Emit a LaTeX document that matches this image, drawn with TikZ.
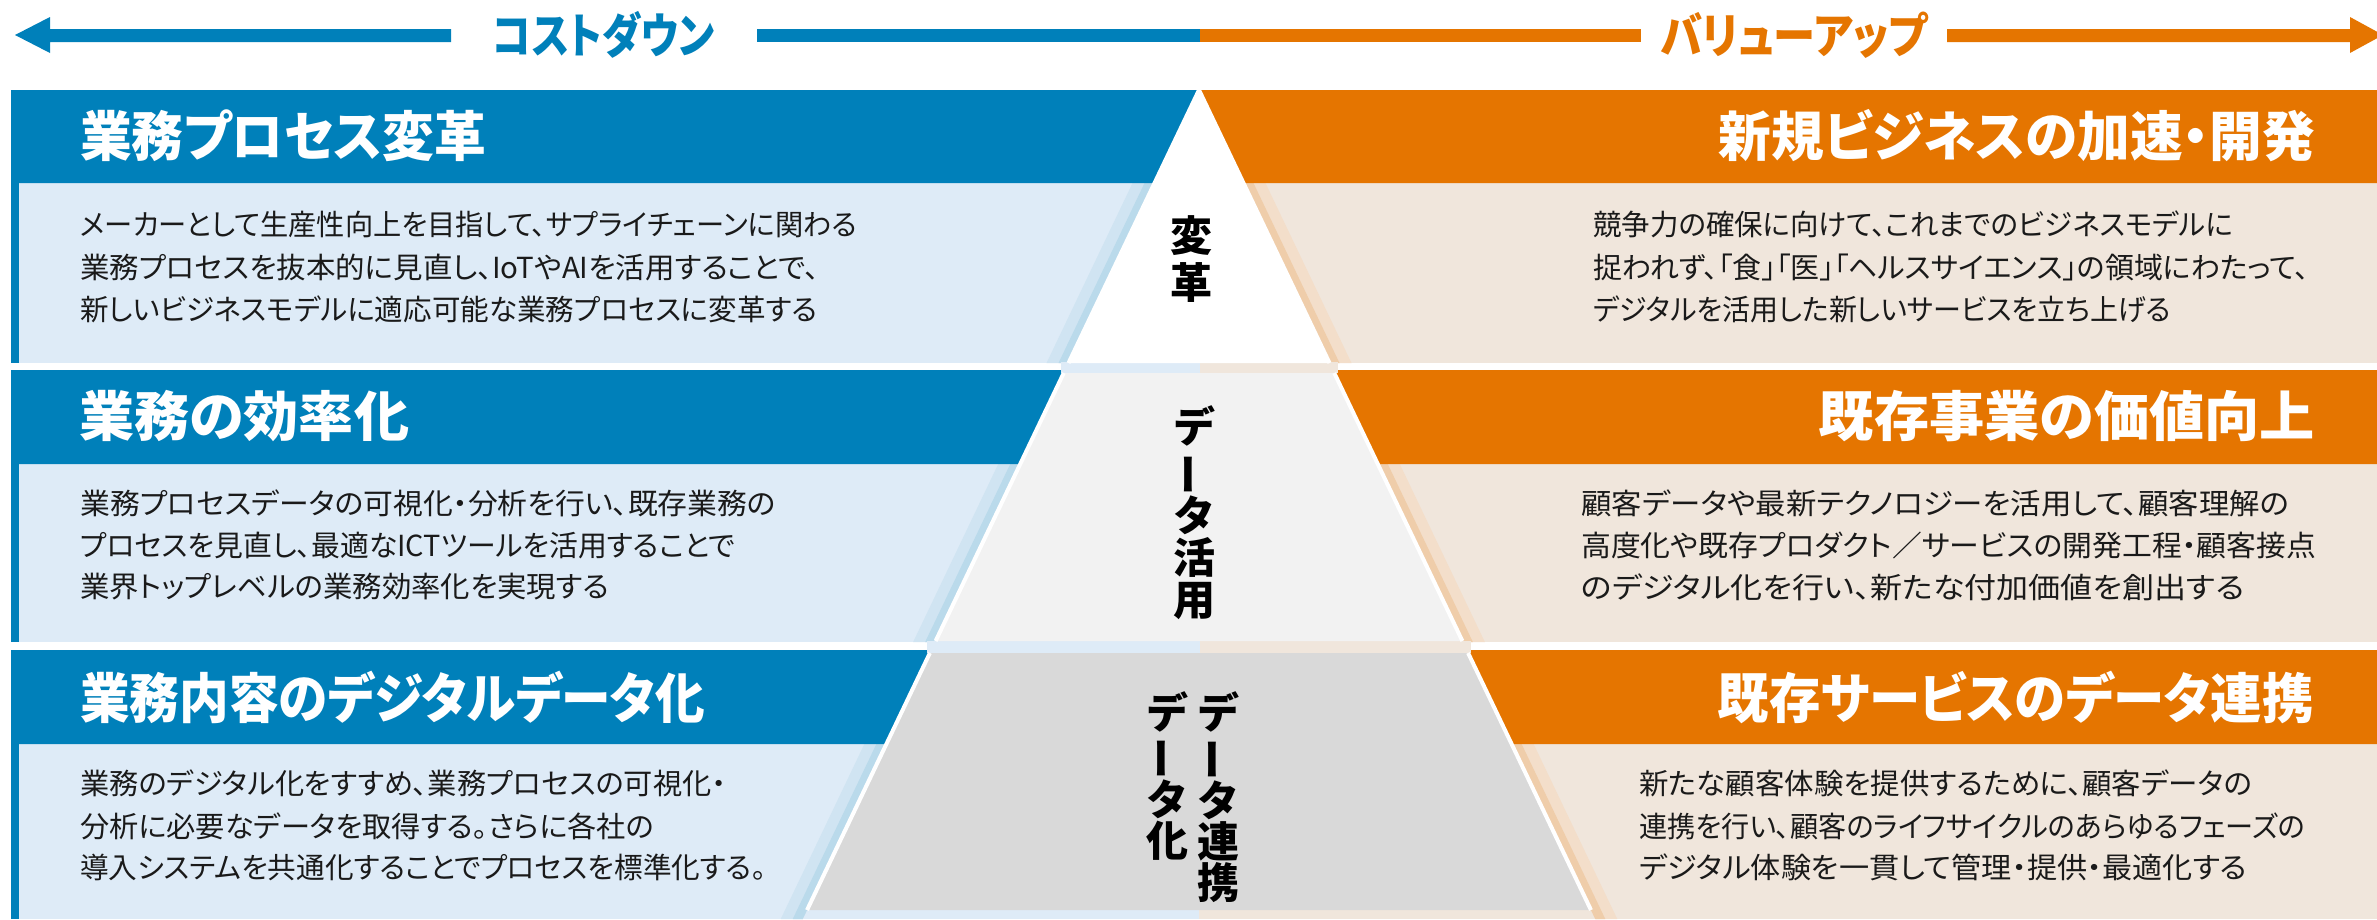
\documentclass[tikz,border=0pt]{standalone}
\usepackage{fontspec}
\usepackage{graphicx}
\newfontfamily\jp{Noto Sans CJK JP}[RawFeature=+palt]
\definecolor{cblue}{RGB}{0,128,186}
\definecolor{corange}{RGB}{229,117,0}
\definecolor{lblue}{RGB}{222,235,247}
\definecolor{beige}{RGB}{240,230,220}
\definecolor{shLo}{RGB}{208,228,242}
\definecolor{shLi}{RGB}{186,218,235}
\definecolor{shRo}{RGB}{243,222,202}
\definecolor{shRi}{RGB}{239,205,170}
\definecolor{pmid}{RGB}{242,242,242}
\definecolor{pbot}{RGB}{217,217,217}
\definecolor{txt}{RGB}{26,26,26}
\newlength\fitlen
\newcommand\fitw[2]{\settowidth\fitlen{#2}\pgfmathsetmacro\fitf{#1/\fitlen}\scalebox{\fitf}[1]{#2}}
\tikzset{
  ttl/.style={font=\jp\bfseries\fontsize{54}{54}\selectfont, text=white, inner sep=0},
  bodytxt/.style={font=\jp\fontsize{29}{29}\selectfont, text=txt, inner sep=0, anchor=west},
  arrtxt/.style={font=\jp\bfseries\fontsize{48}{48}\selectfont, inner sep=0},
  verttxt/.style={font=\jp\bfseries\fontsize{42}{42}\selectfont, align=center, inner sep=0, text=black},
  edge/.style={white, line width=4pt, line cap=butt}
}
\newcommand\vbar{\rotatebox[origin=c]{90}{ー}}
\begin{document}
\begin{tikzpicture}[x=1pt,y=-1pt,
  declare function={Lx(\q)=1199-0.478*(\q-90);Rx(\q)=1199+0.478*(\q-90);}]
\useasboundingbox[fill=white] (0,0) rectangle (2377,919);
% top arrows
\fill[cblue] (15,35) -- (50,17) -- (50,29) -- (451,29) -- (451,42) -- (50,42) -- (50,53) -- cycle;
\fill[cblue] (757,29) rectangle (1200,42);
\fill[corange] (1200,29) rectangle (1641,42);
\fill[corange] (1947,29) -- (2350,29) -- (2350,17) -- (2383,35) -- (2350,53) -- (2350,42) -- (1947,42) -- cycle;
\node[arrtxt, text=cblue] (cd) at (604,35) {\fitw{222}{コストダウン}};
\node[arrtxt, text=corange] (vu) at (1794,35) {\fitw{267}{バリューアップ}};
% bodies
\foreach \yt/\yb in {183/363, 464/642, 744/919}{
  \fill[cblue] (11,\yt) rectangle (19,\yb);
  \fill[lblue] (19,\yt) rectangle (1199,\yb);
  \fill[beige] (1199,\yt) rectangle (2377,\yb);
  \fill[shLo] ({Lx(\yt)-22},\yt) -- ({Lx(\yt)},\yt) -- ({Lx(\yb)},\yb) -- ({Lx(\yb)-22},\yb) -- cycle;
  \fill[shLi] ({Lx(\yt)-10},\yt) -- ({Lx(\yt)},\yt) -- ({Lx(\yb)},\yb) -- ({Lx(\yb)-10},\yb) -- cycle;
  \fill[shRo] ({Rx(\yt)+22},\yt) -- ({Rx(\yt)},\yt) -- ({Rx(\yb)},\yb) -- ({Rx(\yb)+22},\yb) -- cycle;
  \fill[shRi] ({Rx(\yt)+10},\yt) -- ({Rx(\yt)},\yt) -- ({Rx(\yb)},\yb) -- ({Rx(\yb)+10},\yb) -- cycle;
}
% headers
\foreach \yt/\yb in {90/183, 370/464, 650/744}{
  \fill[cblue] (11,\yt) -- ({Lx(\yt)},\yt) -- ({Lx(\yb)},\yb) -- (11,\yb) -- cycle;
  \fill[corange] ({Rx(\yt)},\yt) -- (2377,\yt) -- (2377,\yb) -- ({Rx(\yb)},\yb) -- cycle;
}
% gap strips in the pyramid
\fill[lblue] ({Lx(363)-8},362) rectangle (1200,373);
\fill[beige] (1200,362) rectangle ({Rx(363)+8},373);
\fill[lblue] ({Lx(641)-9},641) rectangle (1200,653);
\fill[beige] (1200,641) rectangle ({Rx(641)+9},653);
% pyramid
\fill[white] (1199,90) -- ({Lx(363)},363) -- ({Rx(363)},363) -- cycle;
\fill[pmid] ({Lx(373)},373) -- ({Rx(373)},373) -- ({Rx(641)},641) -- ({Lx(641)},641) -- cycle;
\fill[pbot] ({Lx(653)},653) -- ({Rx(653)},653) -- ({Rx(910)},910) -- ({Lx(910)},910) -- cycle;
\draw[edge] ({Lx(363)},363) -- (1199,90) -- ({Rx(363)},363);
\draw[edge] ({Lx(373)},373) -- ({Lx(641)},641);
\draw[edge] ({Rx(373)},373) -- ({Rx(641)},641);
\draw[edge] ({Lx(653)},653) -- ({Lx(910)},910);
\draw[edge] ({Rx(653)},653) -- ({Rx(910)},910);
% pyramid labels
\node[verttxt, font=\jp\bfseries\fontsize{42}{47}\selectfont] (p1) at (1191,259) {変\\革};
\node[verttxt] (p2) at (1194,513) {デ\\\vbar\\タ\\活\\用};
\node[verttxt, font=\jp\bfseries\fontsize{42}{41}\selectfont] (p3a) at (1218,797) {デ\\\vbar\\タ\\連\\携};
\node[verttxt, font=\jp\bfseries\fontsize{42}{41}\selectfont] (p3b) at (1167,776) {デ\\\vbar\\タ\\化};
% titles
\node[ttl, anchor=west] (t1l) at (80,136) {\fitw{406}{業務プロセス変革}};
\node[ttl, anchor=east] (t1r) at (2315,136) {\fitw{596}{新規ビジネスの加速・開発}};
\node[ttl, anchor=west] (t2l) at (79,416) {\fitw{330}{業務の効率化}};
\node[ttl, anchor=east] (t2r) at (2315,416) {\fitw{496}{既存事業の価値向上}};
\node[ttl, anchor=west] (t3l) at (80,697) {\fitw{625}{業務内容のデジタルデータ化}};
\node[ttl, anchor=east] (t3r) at (2314,697) {\fitw{596}{既存サービスのデータ連携}};
% body texts row 1
\node[bodytxt] (b1l1) at (80,224) {\fitw{777}{メーカーとして生産性向上を目指して、サプライチェーンに関わる}};
\node[bodytxt] (b1l2) at (80,267) {\fitw{739}{業務プロセスを抜本的に見直し、IoTやAIを活用することで、}};
\node[bodytxt] (b1l3) at (80,309) {\fitw{737}{新しいビジネスモデルに適応可能な業務プロセスに変革する}};
\node[bodytxt] (b1r1) at (1593,224) {\fitw{640}{競争力の確保に向けて、これまでのビジネスモデルに}};
\node[bodytxt] (b1r2) at (1593,267) {\fitw{716}{捉われず、「食」「医」「ヘルスサイエンス」の領域にわたって、}};
\node[bodytxt] (b1r3) at (1593,309) {\fitw{578}{デジタルを活用した新しいサービスを立ち上げる}};
% row 2
\node[bodytxt] (b2l1) at (80,503) {\fitw{696}{業務プロセスデータの可視化・分析を行い、既存業務の}};
\node[bodytxt] (b2l2) at (80,545) {\fitw{655}{プロセスを見直し、最適なICTツールを活用することで}};
\node[bodytxt] (b2l3) at (80,587) {\fitw{529}{業界トップレベルの業務効率化を実現する}};
\node[bodytxt] (b2r1) at (1581,503) {\fitw{708}{顧客データや最新テクノロジーを活用して、顧客理解の}};
\node[bodytxt] (b2r2) at (1581,545) {\fitw{735}{高度化や既存プロダクト／サービスの開発工程・顧客接点}};
\node[bodytxt] (b2r3) at (1581,587) {\fitw{663}{のデジタル化を行い、新たな付加価値を創出する}};
% row 3
\node[bodytxt] (b3l1) at (80,783) {\fitw{646}{業務のデジタル化をすすめ、業務プロセスの可視化・}};
\node[bodytxt] (b3l2) at (80,826) {\fitw{574}{分析に必要なデータを取得する。さらに各社の}};
\node[bodytxt] (b3l3) at (80,867) {\fitw{686}{導入システムを共通化することでプロセスを標準化する。}};
\node[bodytxt] (b3r1) at (1639,783) {\fitw{613}{新たな顧客体験を提供するために、顧客データの}};
\node[bodytxt] (b3r2) at (1639,826) {\fitw{666}{連携を行い、顧客のライフサイクルのあらゆるフェーズの}};
\node[bodytxt] (b3r3) at (1639,867) {\fitw{608}{デジタル体験を一貫して管理・提供・最適化する}};
\end{tikzpicture}
\end{document}
